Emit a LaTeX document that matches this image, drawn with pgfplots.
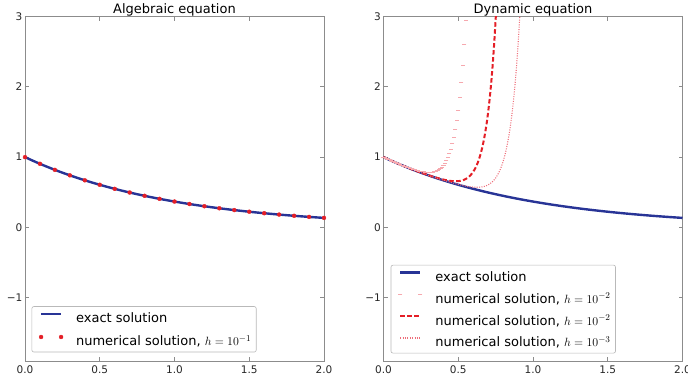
\documentclass[border=0pt]{standalone}
\usepackage{pgfplots}
\pgfplotsset{compat=1.18}
\usepackage{fontspec}
\setmainfont{DejaVu Sans}
\definecolor{exactblue}{RGB}{40,52,150}
\definecolor{numred}{RGB}{228,30,38}
\definecolor{lightpink}{RGB}{246,168,174}
\definecolor{dotpink}{RGB}{238,110,122}
\definecolor{framegray}{RGB}{140,140,140}
\pgfplotsset{
 linelegend/.style={legend image code/.code={\path (0bp,0bp); \draw[##1] (3bp,4bp) -- (23bp,4bp);}},
 marklegend/.style={legend image code/.code={\path (0bp,0bp); \draw[##1] plot coordinates {(3bp,4bp) (23bp,4bp)};}},
 myaxis/.style={
  scale only axis, width=299bp, height=344.5bp,
  xmin=0, xmax=2, ymin=-1.9, ymax=3,
  xtick={0,0.5,1,1.5,2}, xticklabels={0.0,0.5,1.0,1.5,2.0},
  ytick={-1,0,1,2,3}, yticklabels={−1,0,1,2,3},
  tick align=inside, major tick length=4bp,
  xtick pos=both, ytick pos=both,
  axis line style={framegray, line width=0.8bp},
  tick style={framegray, line width=0.8bp},
  ticklabel style={font=\fontsize{10.5bp}{12bp}\selectfont, text=black!85},
  xticklabel style={inner sep=0pt, yshift=-5bp},
  yticklabel style={inner sep=0pt, xshift=-2.5bp},
  every axis title shift=0pt,
  title style={font=\fontsize{13bp}{15bp}\selectfont, at={(0.5,1)}, anchor=base, yshift=3bp, inner sep=0pt},
  legend cell align=left,
  legend style={draw=gray!55, line width=0.6bp, rounded corners=2bp, inner xsep=5bp, inner ysep=6.3bp, outer sep=0pt,
    font=\fontsize{13bp}{15bp}\selectfont,
    nodes={inner sep=0pt, text height=9.5bp, text depth=0pt},
    column sep=13bp, row sep=12.2bp},
 },
}
\begin{document}
\begin{tikzpicture}
\path[use as bounding box] (0,0) rectangle (688bp,376bp);
% ---------------- left ----------------
\begin{axis}[myaxis, at={(25bp,15bp)}, anchor=south west, title={Algebraic equation},
  legend style={at={(0.023,0.026)}, anchor=south west}]
\addplot[exactblue, line width=2.4bp, smooth, linelegend]
 coordinates {(0,1.0000) (0.05,0.9512) (0.1,0.9048) (0.15,0.8607) (0.2,0.8187) (0.25,0.7788) (0.3,0.7408) (0.35,0.7047) (0.4,0.6703) (0.45,0.6376) (0.5,0.6065) (0.55,0.5769) (0.6,0.5488) (0.65,0.5220) (0.7,0.4966) (0.75,0.4724) (0.8,0.4493) (0.85,0.4274) (0.9,0.4066) (0.95,0.3867) (1.0,0.3679) (1.05,0.3499) (1.1,0.3329) (1.15,0.3166) (1.2,0.3012) (1.25,0.2865) (1.3,0.2725) (1.35,0.2592) (1.4,0.2466) (1.45,0.2346) (1.5,0.2231) (1.55,0.2122) (1.6,0.2019) (1.65,0.1920) (1.7,0.1827) (1.75,0.1738) (1.8,0.1653) (1.85,0.1572) (1.9,0.1496) (1.95,0.1423) (2.0,0.1353)};
\addlegendentry{exact solution}
\addplot[only marks, mark=*, mark size=2bp, numred, mark options={draw=numred, fill=numred, line width=0.3bp}, marklegend]
 coordinates {(0,1.0000) (0.1,0.9048) (0.2,0.8187) (0.3,0.7408) (0.4,0.6703) (0.5,0.6065) (0.6,0.5488) (0.7,0.4966) (0.8,0.4493) (0.9,0.4066) (1.0,0.3679) (1.1,0.3329) (1.2,0.3012) (1.3,0.2725) (1.4,0.2466) (1.5,0.2231) (1.6,0.2019) (1.7,0.1827) (1.8,0.1653) (1.9,0.1496) (2.0,0.1353)};
\addlegendentry{numerical solution, $h=10^{-1}$}
\end{axis}
% ---------------- right ----------------
\begin{axis}[myaxis, at={(383.5bp,15bp)}, anchor=south west, title={Dynamic equation},
  legend style={at={(0.025,0.023)}, anchor=south west}]
\addplot[exactblue, line width=2.4bp, smooth, linelegend]
 coordinates {(0,1.0000) (0.05,0.9512) (0.1,0.9048) (0.15,0.8607) (0.2,0.8187) (0.25,0.7788) (0.3,0.7408) (0.35,0.7047) (0.4,0.6703) (0.45,0.6376) (0.5,0.6065) (0.55,0.5769) (0.6,0.5488) (0.65,0.5220) (0.7,0.4966) (0.75,0.4724) (0.8,0.4493) (0.85,0.4274) (0.9,0.4066) (0.95,0.3867) (1.0,0.3679) (1.05,0.3499) (1.1,0.3329) (1.15,0.3166) (1.2,0.3012) (1.25,0.2865) (1.3,0.2725) (1.35,0.2592) (1.4,0.2466) (1.45,0.2346) (1.5,0.2231) (1.55,0.2122) (1.6,0.2019) (1.65,0.1920) (1.7,0.1827) (1.75,0.1738) (1.8,0.1653) (1.85,0.1572) (1.9,0.1496) (1.95,0.1423) (2.0,0.1353)};
\addlegendentry{exact solution}
\addplot[only marks, mark=-, mark size=2.2bp, lightpink, mark options={line width=0.9bp}, marklegend]
 coordinates {(0.00,1.000) (0.01,0.991) (0.02,0.981) (0.03,0.971) (0.04,0.962) (0.05,0.952) (0.06,0.943) (0.07,0.933) (0.08,0.924) (0.09,0.915) (0.10,0.906) (0.11,0.897) (0.12,0.888) (0.13,0.880) (0.14,0.871) (0.15,0.864) (0.16,0.857) (0.17,0.849) (0.18,0.841) (0.19,0.834) (0.20,0.827) (0.21,0.821) (0.22,0.814) (0.23,0.808) (0.24,0.803) (0.25,0.798) (0.26,0.793) (0.27,0.790) (0.28,0.787) (0.29,0.784) (0.30,0.783) (0.31,0.783) (0.32,0.785) (0.33,0.788) (0.34,0.792) (0.35,0.799) (0.36,0.809) (0.37,0.821) (0.38,0.837) (0.39,0.858) (0.40,0.882) (0.41,0.913) (0.42,0.949) (0.43,0.994) (0.44,1.047) (0.45,1.112) (0.46,1.188) (0.47,1.279) (0.48,1.387) (0.49,1.515) (0.50,1.667) (0.51,1.846) (0.52,2.057) (0.53,2.307) (0.54,2.601) (0.55,2.948)};
\addlegendentry{numerical solution, $h=10^{-2}$}
\addplot[numred, line width=2bp, dash pattern=on 4.5bp off 2.5bp, linelegend]
 coordinates {(0,1.000) (0.05,0.951) (0.10,0.905) (0.15,0.861) (0.20,0.819) (0.25,0.780) (0.28,0.758) (0.30,0.743) (0.32,0.729) (0.34,0.716) (0.36,0.704) (0.38,0.692) (0.40,0.681) (0.41,0.676) (0.42,0.672) (0.43,0.668) (0.44,0.664) (0.45,0.661) (0.46,0.659) (0.47,0.657) (0.48,0.657) (0.49,0.657) (0.50,0.658) (0.51,0.661) (0.52,0.665) (0.53,0.670) (0.54,0.678) (0.55,0.689) (0.56,0.702) (0.57,0.718) (0.58,0.738) (0.59,0.762) (0.60,0.791) (0.61,0.826) (0.62,0.868) (0.63,0.918) (0.64,0.978) (0.65,1.048) (0.66,1.131) (0.67,1.229) (0.68,1.345) (0.69,1.480) (0.70,1.639) (0.71,1.826) (0.72,2.045) (0.73,2.301) (0.74,2.601) (0.75,2.952) (0.76,3.364)};
\addlegendentry{numerical solution, $h=10^{-2}$}
\addplot[dotpink, line width=1.1bp, dash pattern=on 1bp off 1.4bp, linelegend]
 coordinates {(0,1.000) (0.10,0.905) (0.20,0.819) (0.30,0.741) (0.35,0.705) (0.40,0.672) (0.42,0.659) (0.44,0.646) (0.46,0.634) (0.48,0.623) (0.50,0.612) (0.51,0.607) (0.52,0.602) (0.53,0.597) (0.54,0.593) (0.55,0.588) (0.56,0.584) (0.57,0.581) (0.58,0.578) (0.59,0.575) (0.60,0.573) (0.61,0.572) (0.62,0.571) (0.63,0.571) (0.64,0.572) (0.65,0.574) (0.66,0.577) (0.67,0.581) (0.68,0.587) (0.69,0.595) (0.70,0.606) (0.71,0.618) (0.72,0.634) (0.73,0.653) (0.74,0.676) (0.75,0.703) (0.76,0.736) (0.77,0.774) (0.78,0.820) (0.79,0.874) (0.80,0.937) (0.81,1.012) (0.82,1.099) (0.83,1.202) (0.84,1.321) (0.85,1.461) (0.86,1.624) (0.87,1.814) (0.88,2.036) (0.89,2.294) (0.90,2.595) (0.91,2.944) (0.92,3.352)};
\addlegendentry{numerical solution, $h=10^{-3}$}
\end{axis}
\end{tikzpicture}
\end{document}
